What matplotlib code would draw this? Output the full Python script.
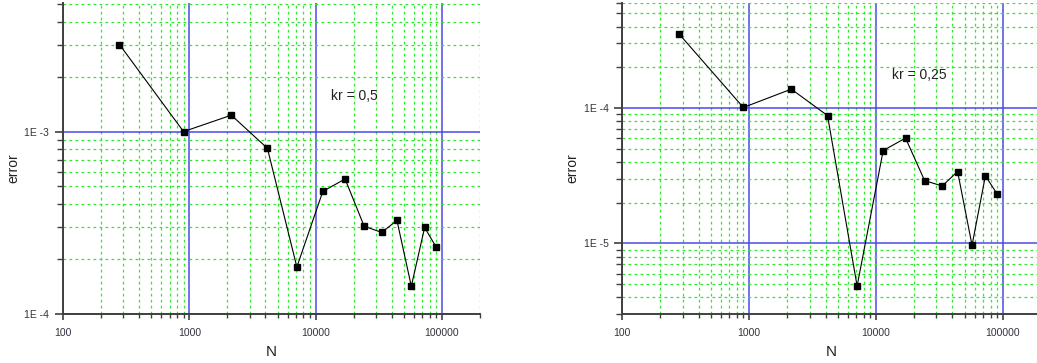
"""Convergence of the error with the number of points N, for two kr values."""
import numpy as np
import matplotlib.pyplot as plt
from matplotlib.ticker import LogLocator, FuncFormatter, NullFormatter

plt.rcParams["font.family"] = ["Liberation Sans", "DejaVu Sans"]

N = [280, 900, 2150, 4150, 7100, 11400, 17100, 24200, 33300, 44000, 57200, 72900, 90200]
ERR_KR_05 = [3.0e-3, 1.0e-3, 1.23e-3, 8.1e-4, 1.81e-4, 4.7e-4, 5.5e-4, 3.03e-4,
             2.8e-4, 3.26e-4, 1.42e-4, 2.98e-4, 2.32e-4]
ERR_KR_025 = [3.53e-4, 1.01e-4, 1.38e-4, 8.8e-5, 4.85e-6, 4.86e-5, 6.0e-5, 2.91e-5,
              2.66e-5, 3.4e-5, 9.7e-6, 3.16e-5, 2.32e-5]
LABELS = ["kr = 0,5", "kr = 0,25"]

W, H = 1037, 363
BLUE = "#4a4ae6"
GREEN = "#2ee82e"
AXIS = "#404040"
TEXT = "#333340"


def _px(left, top, right, bottom):
    """Axes rectangle from pixel edges measured from the top-left corner."""
    return [left / W, (H - bottom) / H, (right - left) / W, (bottom - top) / H]


def _sci(value, _pos):
    exp = int(round(np.log10(value)))
    return f"1E {exp}"


def panel(fig, rect, values, ylim, label, label_px, ylabel_px):
    axis = fig.add_axes(rect)
    axis.set_xscale("log")
    axis.set_yscale("log")
    axis.set_xlim(100, 2e5)
    axis.set_ylim(*ylim)

    for side in ("top", "right"):
        axis.spines[side].set_visible(False)
    for side in ("left", "bottom"):
        axis.spines[side].set_color(AXIS)
        axis.spines[side].set_linewidth(1.4)

    axis.xaxis.set_major_locator(LogLocator(base=10, numticks=10))
    axis.xaxis.set_minor_locator(LogLocator(base=10, subs=np.arange(2, 10), numticks=20))
    axis.yaxis.set_major_locator(LogLocator(base=10, numticks=10))
    axis.yaxis.set_minor_locator(LogLocator(base=10, subs=np.arange(2, 10), numticks=20))
    axis.xaxis.set_major_formatter(FuncFormatter(lambda v, p: f"{int(round(v))}"))
    axis.yaxis.set_major_formatter(FuncFormatter(_sci))
    axis.xaxis.set_minor_formatter(NullFormatter())
    axis.yaxis.set_minor_formatter(NullFormatter())

    axis.tick_params(axis="x", which="major", length=4, width=1.2, color=AXIS,
                     labelsize=7.5, labelcolor=TEXT, pad=6)
    axis.tick_params(axis="x", which="minor", length=3, width=1.0, color=AXIS)
    axis.tick_params(axis="y", which="major", length=6, width=1.2, color=AXIS,
                     labelsize=7.5, labelcolor=TEXT, pad=4)
    axis.tick_params(axis="y", which="minor", length=4, width=1.0, color=AXIS)

    axis.grid(True, which="minor", color=GREEN, linestyle=(0, (2.2, 2.6)), linewidth=0.9)
    axis.grid(True, which="major", color=BLUE, linestyle="-", linewidth=1.1)
    axis.set_axisbelow(True)

    axis.plot(N, values, color="black", linewidth=0.8, marker="s", markersize=5,
              markerfacecolor="black", markeredgecolor="black", zorder=5)

    fig.text(label_px[0] / W, (H - label_px[1]) / H, label, fontsize=10,
             color="#222222", ha="left", va="center")
    axis.set_xlabel("N", fontsize=11, color="#222222", labelpad=5)
    fig.text(ylabel_px[0] / W, (H - ylabel_px[1]) / H, "error", fontsize=10,
             color="#222222", rotation=90, ha="center", va="center")
    return axis


fig = plt.figure(figsize=(W / 100, H / 100), dpi=100)
fig.patch.set_facecolor("white")

panel(fig, _px(63, 3.3, 480, 314), ERR_KR_05, (1e-4, 5.05e-3), LABELS[0],
      (331, 96), (13, 168))
panel(fig, _px(622.3, 2.7, 1041, 314.3), ERR_KR_025, (3e-6, 6e-4), LABELS[1],
      (892, 75), (572, 168))

fig.savefig("out.png", dpi=100, facecolor="white")
